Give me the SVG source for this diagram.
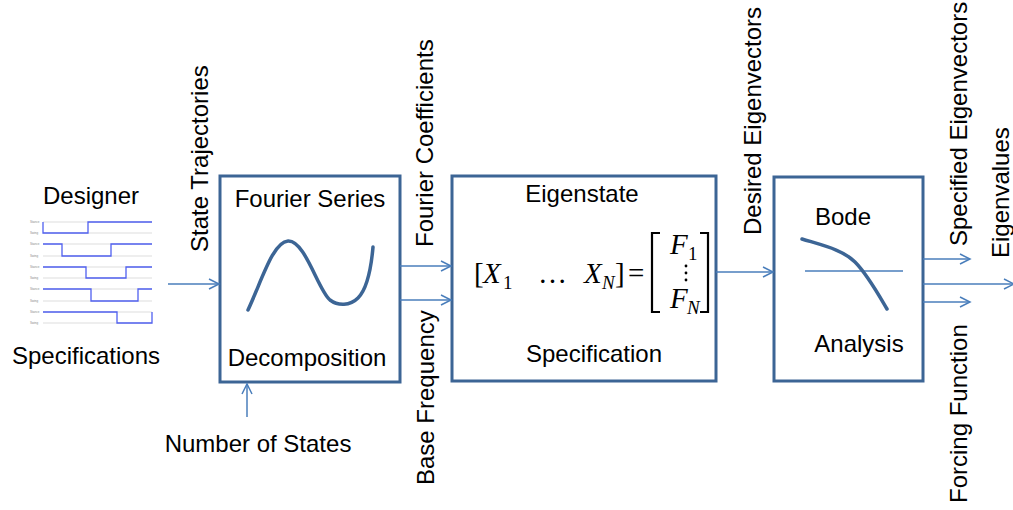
<svg xmlns="http://www.w3.org/2000/svg" width="1013" height="510" viewBox="0 0 1013 510">
<style>
.t{font-family:"Liberation Sans",Arial,sans-serif;font-size:24px;fill:#000}
.box{fill:#fff;stroke:#3c6595;stroke-width:3}
.con{stroke:#4a7ebb;stroke-width:1.5;fill:none}
.curve{stroke:#3c6595;stroke-width:3.5;fill:none;stroke-linecap:round}
.m{font-family:"Liberation Serif","DejaVu Serif",serif;font-size:29px;fill:#000}
.mi{font-style:italic}
.ms{font-family:"Liberation Serif","DejaVu Serif",serif;font-size:19px;fill:#000}
.g{stroke:#c8c8c8;stroke-width:0.6;fill:none}
.s{stroke:#5060f0;stroke-width:1.3;fill:none}
.tiny{font-family:"Liberation Sans",Arial,sans-serif;font-size:3px;fill:#888}
</style>
<defs>
<marker id="ah" markerWidth="12" markerHeight="12" refX="10" refY="5" orient="auto" markerUnits="userSpaceOnUse" overflow="visible">
<path d="M0,0 L10,5 L0,10" fill="none" stroke="#4a7ebb" stroke-width="1.5"/>
</marker>
</defs>

<g id="designer">
<text class="t" x="91" y="204" text-anchor="middle">Designer</text>
<text class="t" x="86" y="364" text-anchor="middle">Specifications</text>
<g id="chart">
<path class="g" d="M43,222H152M43,233H152M43,244H152M43,256H152M43,267H152M43,278H152M43,289H152M43,301H152M43,312H152M43,323H152"/>
<path class="s" d="M43,222V233H88V222H152"/>
<path class="s" d="M43,244H62V256H111V244H152"/>
<path class="s" d="M43,267H86V278H126V267H152"/>
<path class="s" d="M43,289H91V301H138V289H152"/>
<path class="s" d="M43,312H117V323H152V312"/>
<text class="tiny" x="30" y="223">Stance</text><text class="tiny" x="30" y="234">Swing</text>
<text class="tiny" x="30" y="245">Stance</text><text class="tiny" x="30" y="257">Swing</text>
<text class="tiny" x="30" y="268">Stance</text><text class="tiny" x="30" y="279">Swing</text>
<text class="tiny" x="30" y="290">Stance</text><text class="tiny" x="30" y="302">Swing</text>
<text class="tiny" x="30" y="313">Stance</text><text class="tiny" x="30" y="324">Swing</text>
</g>
</g>

<g id="fourier">
<rect class="box" x="220" y="176" width="180" height="206"/>
<text class="t" x="310" y="207" text-anchor="middle">Fourier Series</text>
<text class="t" x="307" y="366" text-anchor="middle">Decomposition</text>
<path class="curve" d="M248,310 C262,280 273,242 288,241 C305,240 318,290 330,300 C338,306 350,306 358,298 C366,290 371,270 373,247"/>
</g>

<g id="eigenstate">
<rect class="box" x="452" y="176" width="264" height="205"/>
<text class="t" x="582" y="202" text-anchor="middle">Eigenstate</text>
<text class="t" x="594" y="362" text-anchor="middle">Specification</text>
<text class="m" x="474" y="283">[</text>
<text class="m mi" x="483" y="283">X</text>
<text class="ms" x="503" y="289">1</text>
<text class="m" x="538" y="283">…</text>
<text class="m mi" x="584" y="283">X</text>
<text class="ms mi" x="602" y="289">N</text>
<text class="m" x="615" y="283">]</text>
<text class="m" x="628" y="283">=</text>
<path d="M660,233 H652 V312 H660" fill="none" stroke="#000" stroke-width="2.2"/>
<path d="M700,233 H708 V312 H700" fill="none" stroke="#000" stroke-width="2.2"/>
<text class="m mi" x="670" y="254">F</text>
<text class="ms" x="688" y="260">1</text>
<circle cx="686" cy="266" r="1.4"/><circle cx="686" cy="273" r="1.4"/><circle cx="686" cy="280" r="1.4"/>
<text class="m mi" x="670" y="308">F</text>
<text class="ms mi" x="687" y="314">N</text>
</g>

<g id="bode">
<rect class="box" x="774" y="177" width="149" height="204"/>
<text class="t" x="843" y="225" text-anchor="middle">Bode</text>
<text class="t" x="859" y="352" text-anchor="middle">Analysis</text>
<path d="M805,271 H903" stroke="#4a7ebb" stroke-width="1.5"/>
<path class="curve" d="M802,239 C825,246 843,250 855,262 C867,274 877,292 887,309"/>
</g>

<g id="labels">
<text class="t" transform="translate(208,252) rotate(-90)">State Trajectories</text>
<text class="t" transform="translate(433,247) rotate(-90)">Fourier Coefficients</text>
<text class="t" transform="translate(434,485) rotate(-90)">Base Frequency</text>
<text class="t" transform="translate(761,235) rotate(-90)">Desired Eigenvectors</text>
<text class="t" transform="translate(967,246) rotate(-90)">Specified Eigenvectors</text>
<text class="t" transform="translate(1009,258) rotate(-90)">Eigenvalues</text>
<text class="t" transform="translate(967,503) rotate(-90)">Forcing Function</text>
<text class="t" x="258" y="452" text-anchor="middle">Number of States</text>
</g>

<g id="connectors">
<line class="con" x1="168" y1="284" x2="219" y2="284" marker-end="url(#ah)"/>
<line class="con" x1="247" y1="417" x2="247" y2="384" marker-end="url(#ah)"/>
<line class="con" x1="400" y1="266" x2="451" y2="266" marker-end="url(#ah)"/>
<line class="con" x1="400" y1="300" x2="451" y2="300" marker-end="url(#ah)"/>
<line class="con" x1="716" y1="272" x2="773" y2="272" marker-end="url(#ah)"/>
<line class="con" x1="923" y1="259" x2="970" y2="259" marker-end="url(#ah)"/>
<line class="con" x1="923" y1="284" x2="1014" y2="284" marker-end="url(#ah)"/>
<line class="con" x1="923" y1="302" x2="970" y2="302" marker-end="url(#ah)"/>
</g>
</svg>
